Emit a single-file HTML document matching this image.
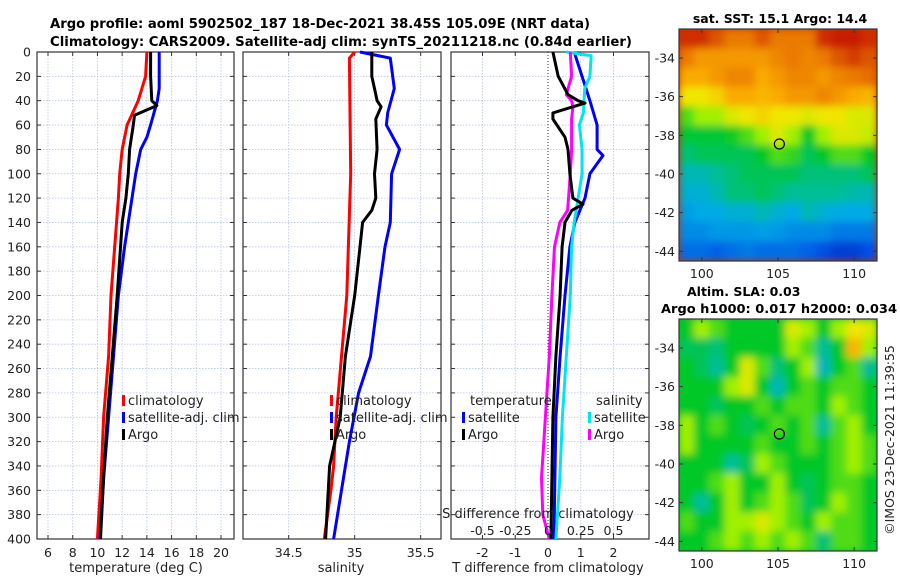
<!DOCTYPE html>
<html><head><meta charset="utf-8"><style>
html,body{margin:0;padding:0;background:#fff;}
svg{display:block;font-family:"DejaVu Sans","Liberation Sans",sans-serif;}
</style></head><body>
<svg id="fig" width="900" height="580" viewBox="0 0 900 580" xmlns="http://www.w3.org/2000/svg">
<defs>
<filter id="blur" x="0" y="0" width="1" height="1"><feGaussianBlur stdDeviation="4"/></filter>
<clipPath id="clipM1"><rect x="679" y="29" width="198" height="232"/></clipPath>
<clipPath id="clipM2"><rect x="679" y="319" width="198" height="232"/></clipPath>
</defs>
<text x="50" y="28" font-size="13" font-weight="bold" textLength="540" lengthAdjust="spacingAndGlyphs">Argo profile: aoml 5902502_187 18-Dec-2021 38.45S 105.09E (NRT data)</text>
<text x="50" y="46" font-size="13" font-weight="bold" textLength="582" lengthAdjust="spacingAndGlyphs">Climatology: CARS2009. Satellite-adj clim: synTS_20211218.nc (0.84d earlier)</text>
<g id="g"></g>
</svg>
<script>
// ---- profile data (depth in dbar) ----
const depthClimT = [0,20,40,60,80,100,120,160,200,250,300,350,400];
const tempClim   = [14.0,13.9,13.3,12.4,12.0,11.8,11.7,11.4,11.1,10.9,10.5,10.3,10.0];
const depthSatT  = [0,30,40,60,70,80,100,120,140,160,200,250,300,350,400];
const tempSat    = [15.0,15.0,14.85,14.3,14.0,13.5,13.1,12.8,12.5,12.2,11.7,11.3,10.9,10.5,10.2];
const depthArgoT = [0,20,40,44,52,60,80,100,120,140,200,250,300,350,400];
const tempArgo   = [14.3,14.3,14.4,14.8,13.0,12.9,12.6,12.5,12.3,12.0,11.6,11.2,10.8,10.5,10.25];

const depthClimS = [0,5,100,200,250,300,340,360,400];
const salClim    = [35.0,34.96,34.97,34.94,34.9,34.86,34.84,34.82,34.77];
const depthSatS  = [0,5,30,50,60,80,100,140,160,200,250,280,320,360,400];
const salSat     = [35.04,35.27,35.30,35.25,35.24,35.34,35.28,35.27,35.23,35.18,35.12,35.03,34.96,34.9,34.84];
const depthArgoS = [0,20,30,40,45,55,80,100,120,130,140,160,200,250,300,340,400];
const salArgo    = [35.13,35.13,35.15,35.17,35.2,35.16,35.17,35.15,35.16,35.13,35.06,35.04,35.0,34.93,34.89,34.81,34.78];

const depthDSatT = [0,15,30,40,60,80,85,100,120,140,160,200,250,300,400];
const dTempSat   = [0.8,0.98,1.16,1.28,1.5,1.5,1.68,1.28,1.13,0.82,0.67,0.52,0.37,0.24,0.18];
const depthDArgoT= [0,20,35,40,42,50,55,70,80,100,120,125,130,140,160,200,250,300,350,400];
const dTempArgo  = [0.15,0.31,0.61,0.92,1.13,0.15,0.15,0.52,0.61,0.67,0.76,1.07,0.73,0.52,0.43,0.37,0.24,0.15,0.12,0.09];
const depthDSatS = [0,3,20,30,50,60,80,100,140,160,200,250,300,350,400];
const dSalSat    = [0.14,0.33,0.32,0.28,0.27,0.24,0.26,0.26,0.2,0.18,0.17,0.14,0.11,0.09,0.06];
const depthDArgoS= [0,20,35,40,45,55,80,100,130,140,160,200,250,300,350,380,400];
const dSalArgo   = [0.17,0.18,0.14,0.18,0.19,0.18,0.18,0.17,0.15,0.09,0.05,0.03,0.01,-0.02,-0.05,-0.04,0.01];

const tTicks = [6,8,10,12,14,16,18,20];
const sTicks = [34.5,35,35.5];
const sTickLabels = ["34.5","35","35.5"];
const dTTicks = [-2,-1,0,1,2];
const dSTicks = [-0.5,-0.25,0,0.25,0.5];
const dSTickLabels = ["-0.5","-0.25","0","0.25","0.5"];
const depthTicks = [0,20,40,60,80,100,120,140,160,180,200,220,240,260,280,300,320,340,360,380,400];
const latTicks = [-34,-36,-38,-40,-42,-44];
const lonTicks = [100,105,110];

// ---- map grids (colormap index 0..1), rows lat -33..-44, cols lon 99..111 ----
const sstGrid = [
[.9,.9,.85,.8,.8,.85,.8,.8,.8,.9,.92,.92,.9],
[.8,.75,.75,.75,.75,.75,.78,.8,.78,.8,.85,.88,.85],
[.72,.72,.75,.78,.78,.72,.75,.78,.78,.75,.78,.8,.82],
[.62,.62,.65,.72,.72,.7,.72,.75,.75,.78,.75,.72,.7],
[.5,.55,.55,.6,.62,.65,.62,.62,.6,.62,.62,.6,.6],
[.44,.44,.44,.46,.5,.55,.6,.55,.45,.55,.6,.6,.58],
[.4,.42,.42,.42,.42,.45,.5,.48,.42,.45,.5,.5,.45],
[.35,.35,.38,.4,.42,.42,.42,.42,.4,.4,.4,.4,.42],
[.32,.32,.35,.4,.4,.42,.4,.38,.38,.38,.38,.36,.35],
[.28,.3,.3,.32,.32,.35,.32,.3,.35,.32,.3,.3,.3],
[.25,.25,.27,.27,.27,.28,.27,.25,.25,.25,.22,.22,.22],
[.2,.2,.18,.2,.22,.2,.2,.2,.18,.15,.12,.12,.15]];
const slaGrid = [
[.45,.55,.5,.45,.45,.45,.45,.6,.55,.45,.55,.62,.6],
[.42,.42,.4,.45,.45,.45,.45,.55,.5,.38,.45,.7,.55],
[.45,.42,.38,.45,.6,.5,.4,.45,.55,.35,.45,.5,.38],
[.45,.45,.45,.55,.6,.45,.35,.45,.5,.45,.5,.5,.45],
[.45,.45,.42,.45,.45,.5,.45,.5,.5,.45,.55,.5,.45],
[.55,.45,.5,.45,.42,.45,.5,.45,.5,.38,.5,.55,.45],
[.55,.45,.45,.45,.45,.5,.45,.45,.5,.45,.5,.55,.5],
[.45,.45,.45,.38,.42,.55,.5,.45,.45,.45,.5,.55,.5],
[.45,.45,.5,.55,.45,.45,.55,.45,.42,.45,.5,.5,.45],
[.45,.38,.45,.55,.45,.5,.55,.5,.42,.45,.55,.5,.45],
[.5,.45,.45,.55,.55,.6,.55,.5,.45,.55,.5,.5,.45],
[.45,.45,.5,.55,.5,.55,.5,.55,.5,.4,.5,.5,.45]];
const argoLon = 105.09, argoLat = -38.45;

const NS = "http://www.w3.org/2000/svg";
const G = document.getElementById('g');
function el(tag, attrs, parent){ const e=document.createElementNS(NS,tag); for(const k in attrs) e.setAttribute(k,attrs[k]); (parent||G).appendChild(e); return e; }

const TOP=52, BOT=539;
const yD = d => TOP + d/400*(BOT-TOP);
const P1={l:37,r:234}, P2={l:243,r:441}, P3={l:451,r:649};
const xT = t => P1.l + (t-5.11)*(P1.r-P1.l)/(21.05-5.11);
const xS = s => P2.l + (s-34.154)*132;
const xDT = d => 548 + d*32.75;
const xDS = s => 548 + s*131;

function panel(P, name, vgrid){
  const g=el('g',{});  
  depthTicks.forEach(d=>{ el('line',{x1:P.l,x2:P.r,y1:yD(d),y2:yD(d),stroke:'#b8c4e0','stroke-width':0.8,'stroke-dasharray':'1.5 1.5'},g);
    el('line',{x1:P.l,x2:P.l+4,y1:yD(d),y2:yD(d),stroke:'#333'},g); el('line',{x1:P.r-4,x2:P.r,y1:yD(d),y2:yD(d),stroke:'#333'},g);});
  vgrid.forEach(x=>{ el('line',{x1:x,x2:x,y1:TOP,y2:BOT,stroke:'#b8c4e0','stroke-width':0.8,'stroke-dasharray':'1.5 1.5'},g);
    el('line',{x1:x,x2:x,y1:BOT-4,y2:BOT,stroke:'#333'},g); el('line',{x1:x,x2:x,y1:TOP,y2:TOP+4,stroke:'#333'},g);});
  const fr=el('rect',{x:P.l,y:TOP,width:P.r-P.l,height:BOT-TOP,fill:'none',stroke:'#333','stroke-width':1.2},g);
  return g;
}
function line(g, ds, vs, fx, color, name){
  const pts=ds.map((d,i)=>fx(vs[i]).toFixed(1)+','+yD(d).toFixed(1)).join(' ');
  const p=el('polyline',{points:pts,fill:'none',stroke:color,'stroke-width':3,'stroke-linejoin':'round'},g);
  
  
}
function txt(x,y,s,opt,parent){ const t=el('text',Object.assign({x:x,y:y,'font-size':13,fill:'#222'},opt||{}),parent); t.textContent=s; return t; }
function legend(g,x,y,color,label,name){
  const lg=el('g',{},g);  
  el('rect',{x:x,y:y-10,width:3,height:11,fill:color},lg); txt(x+6,y,label,{},lg);
}

// Panel 1
const g1=panel(P1,'temperature-panel',tTicks.map(xT));
depthTicks.forEach(d=>{ const t=txt(31,yD(d)+4.5,String(d),{'text-anchor':'end','font-size':12.5},g1); });
tTicks.forEach(t=>txt(xT(t),557,String(t),{'text-anchor':'middle','font-size':12.5},g1));
txt(136,572,'temperature (deg C)',{'text-anchor':'middle'},g1);
line(g1,depthClimT,tempClim,xT,'#ff0000','temp-climatology-line');
line(g1,depthSatT,tempSat,xT,'#0000ff','temp-satellite-line');
line(g1,depthArgoT,tempArgo,xT,'#000000','temp-argo-line');
legend(g1,122,405,'#ff0000','climatology','legend-climatology');
legend(g1,122,422,'#0000ff','satellite-adj. clim','legend-satellite-adj');
legend(g1,122,439,'#000000','Argo','legend-argo');

// Panel 2
const g2=panel(P2,'salinity-panel',sTicks.map(xS));
sTicks.forEach((s,i)=>txt(xS(s),557,sTickLabels[i],{'text-anchor':'middle','font-size':12.5},g2));
txt(341,572,'salinity',{'text-anchor':'middle'},g2);
line(g2,depthClimS,salClim,xS,'#ff0000','sal-climatology-line');
line(g2,depthSatS,salSat,xS,'#0000ff','sal-satellite-line');
line(g2,depthArgoS,salArgo,xS,'#000000','sal-argo-line');
legend(g2,330,405,'#ff0000','climatology','legend-climatology-2');
legend(g2,330,422,'#0000ff','satellite-adj. clim','legend-satellite-adj-2');
legend(g2,330,439,'#000000','Argo','legend-argo-2');

// Panel 3
const g3=panel(P3,'difference-panel',dTTicks.filter(v=>v!==0).map(xDT));
el('line',{x1:xDT(0),x2:xDT(0),y1:TOP,y2:BOT,stroke:'#333','stroke-width':1,'stroke-dasharray':'1 2'},g3);
dTTicks.forEach(t=>txt(xDT(t),557,String(t),{'text-anchor':'middle','font-size':12.5},g3));
txt(548,572,'T difference from climatology',{'text-anchor':'middle'},g3);
line(g3,depthDSatT,dTempSat,xDT,'#0000ff','dtemp-satellite-line');
line(g3,depthDSatS,dSalSat,xDS,'#00e5ee','dsal-satellite-line');
line(g3,depthDArgoS,dSalArgo,xDS,'#ff00ff','dsal-argo-line');
line(g3,depthDArgoT,dTempArgo,xDT,'#000000','dtemp-argo-line');
txt(470,405,'temperature',{},g3);
legend(g3,462,422,'#0000ff','satellite','legend-t-satellite');
legend(g3,462,439,'#000000','Argo','legend-t-argo');
txt(596,405,'salinity',{},g3);
legend(g3,588,422,'#00e5ee','satellite','legend-s-satellite');
legend(g3,588,439,'#ff00ff','Argo','legend-s-argo');
txt(538,518,'S difference from climatology',{'text-anchor':'middle'},g3);
dSTicks.forEach((s,i)=>txt(xDS(s),535,dSTickLabels[i],{'text-anchor':'middle','font-size':12.5},g3));

// Maps
function cmap(v){
  const st=[[0,0,0,140],[.15,0,80,230],[.3,0,170,230],[.38,0,190,150],[.45,0,200,40],[.55,160,240,0],[.62,240,230,0],[.72,250,170,0],[.82,230,110,0],[.92,200,30,0],[1,150,0,0]];
  for(let i=1;i<st.length;i++){ if(v<=st[i][0]){ const a=st[i-1],b=st[i],f=(v-a[0])/(b[0]-a[0]);
    return 'rgb('+[1,2,3].map(k=>Math.round(a[k]+(b[k]-a[k])*f)).join(',')+')'; } }
  return 'rgb(150,0,0)';
}
function map(top,grid,name,clip,title1,title2){
  const mg=el('g',{});  
  const L=679,W=198,H=232;
  const xL=lon=>L+(lon-98.5)*W/13, yL=lat=>top+(-32.5-lat)*H/12;
  const cg=el('g',{'clip-path':'url(#'+clip+')'},mg);
  el('rect',{x:L,y:top,width:W,height:H,fill:cmap(grid[0][0])},cg);
  const bg=el('g',{filter:'url(#blur)'},cg);
  grid.forEach((row,i)=>row.forEach((v,j)=>{
    const c=el('rect',{x:xL(98.5+j)-0.3,y:yL(-32.5-i)-0.3,width:W/13+0.6,height:H/12+0.6,fill:cmap(v)},bg);
    
    
  }));
  el('rect',{x:L,y:top,width:W,height:H,fill:'none',stroke:'#333','stroke-width':1.2},mg);
  latTicks.forEach(la=>{ const y=yL(la); el('line',{x1:L,x2:L+4,y1:y,y2:y,stroke:'#333'},mg); el('line',{x1:L+W-4,x2:L+W,y1:y,y2:y,stroke:'#333'},mg);
    txt(675,y+4.5,String(la),{'text-anchor':'end','font-size':12.5},mg);});
  lonTicks.forEach(lo=>{ const x=xL(lo); el('line',{x1:x,x2:x,y1:top+H-4,y2:top+H,stroke:'#333'},mg); el('line',{x1:x,x2:x,y1:top,y2:top+4,stroke:'#333'},mg);
    txt(x,top+H+17,String(lo),{'text-anchor':'middle','font-size':12.5},mg);});
  const c=el('circle',{cx:xL(argoLon),cy:yL(argoLat),r:5,fill:'none',stroke:'#000','stroke-width':1.2},mg);
  
  
  return mg;
}
const m1=map(29,sstGrid,'sst-map','clipM1');
txt(780,23,'sat. SST: 15.1 Argo: 14.4',{'text-anchor':'middle','font-weight':'bold','font-size':12.5,fill:'#000'},m1);
const m2=map(319,slaGrid,'sla-map','clipM2');
txt(687,296,'Altim. SLA: 0.03',{'font-weight':'bold','font-size':12.5,fill:'#000'},m2);
txt(779,313,'Argo h1000: 0.017 h2000: 0.034',{'text-anchor':'middle','font-weight':'bold','font-size':12.5,fill:'#000',textLength:236,lengthAdjust:'spacingAndGlyphs'},m2);
const im=txt(0,0,'©IMOS 23-Dec-2021 11:39:55',{'text-anchor':'middle','font-size':12.5,transform:'translate(894,440) rotate(-90)'});


</script>
</body></html>
